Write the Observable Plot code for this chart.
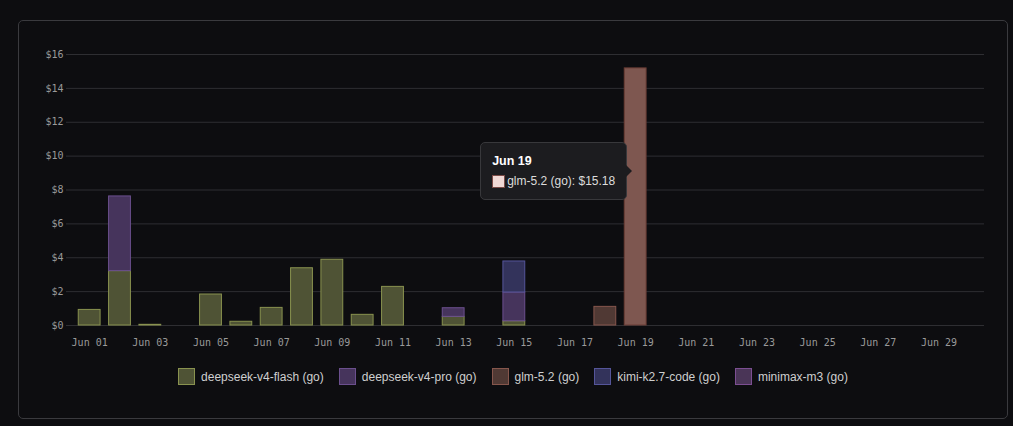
<!DOCTYPE html>
<html>
<head>
<meta charset="utf-8">
<script src="https://cdn.jsdelivr.net/npm/d3@7"></script>
<script src="https://cdn.jsdelivr.net/npm/@observablehq/plot@0.6"></script>
<style>
  html, body { margin: 0; padding: 0; background: #0d0d10; width: 1013px; height: 426px; overflow: hidden; }
  #card { position: absolute; left: 18px; top: 20px; width: 988px; height: 397px; border: 1px solid #3a3a3e; border-radius: 5px; }
  #chart { position: absolute; left: 0; top: 0; }
  #legend { position: absolute; left: 18px; top: 368px; width: 990px; display: flex; justify-content: center; align-items: center;
            font-family: "Liberation Sans", Arial, sans-serif; font-size: 12px; color: #cfcfcf; }
  .item { display: flex; align-items: center; margin: 0 7.5px; }
  .sw { width: 15px; height: 15px; border: 1px solid; margin-right: 6px; }
  #tooltip { position: absolute; box-sizing: border-box; background: #1c1c1f; border: 1px solid #38383b; border-radius: 5px;
             padding: 10px 11px 11px 11px; font-family: "Liberation Sans", Arial, sans-serif; font-size: 12px; color: #dcdcdc; }
  #tooltip .t { font-weight: bold; color: #fff; line-height: 16px; margin-bottom: 6px; font-size: 12.5px; }
  #tooltip .b { display: flex; align-items: center; line-height: 13px; white-space: nowrap; }
  #tooltip .b .s { width: 11px; height: 11px; border: 1px solid #7a4a45; margin-right: 2px; }
  #tooltip::after { content: ""; position: absolute; right: -6px; top: 50%; margin-top: -6px; border-top: 6px solid transparent;
                    border-bottom: 6px solid transparent; border-left: 6px solid #1c1c1f; }
</style>
</head>
<body>
<div id="card"></div>
<div id="chart"></div>
<div id="legend"></div>
<div id="tooltip"></div>
<script>
const dates = ["Jun 01","Jun 02","Jun 03","Jun 04","Jun 05","Jun 06","Jun 07","Jun 08","Jun 09","Jun 10",
               "Jun 11","Jun 12","Jun 13","Jun 14","Jun 15","Jun 16","Jun 17","Jun 18","Jun 19","Jun 20",
               "Jun 21","Jun 22","Jun 23","Jun 24","Jun 25","Jun 26","Jun 27","Jun 28","Jun 29","Jun 30"];
const xTickLabels = ["Jun 01","Jun 03","Jun 05","Jun 07","Jun 09","Jun 11","Jun 13","Jun 15",
                     "Jun 17","Jun 19","Jun 21","Jun 23","Jun 25","Jun 27","Jun 29"];
const yTicks = [0, 2, 4, 6, 8, 10, 12, 14, 16];
const seriesNames = ["deepseek-v4-flash (go)", "deepseek-v4-pro (go)", "glm-5.2 (go)", "kimi-k2.7-code (go)", "minimax-m3 (go)"];
//                 01    02    03    04  05    06    07    08    09    10    11    12  13    14  15    16 17 18    19     20 ... 30
const flashCost   = [0.92, 3.21, 0.04, 0, 1.83, 0.22, 1.04, 3.38, 3.88, 0.63, 2.28, 0, 0.51, 0, 0.25, 0, 0, 0,    0,     0,0,0,0,0,0,0,0,0,0,0];
const proCost     = [0,    4.41, 0,    0, 0,    0,    0,    0,    0,    0,    0,    0, 0.51, 0, 1.70, 0, 0, 0,    0,     0,0,0,0,0,0,0,0,0,0,0];
const glmCost     = [0,    0,    0,    0, 0,    0,    0,    0,    0,    0,    0,    0, 0,    0, 0,    0, 0, 1.10, 15.18, 0,0,0,0,0,0,0,0,0,0,0];
const kimiCost    = [0,    0,    0,    0, 0,    0,    0,    0,    0,    0,    0,    0, 0,    0, 1.83, 0, 0, 0,    0,     0,0,0,0,0,0,0,0,0,0,0];
const minimaxCost = [0,    0,    0,    0, 0,    0,    0,    0,    0,    0,    0,    0, 0,    0, 0,    0, 0, 0,    0,     0,0,0,0,0,0,0,0,0,0,0];
const highlighted = {date: "Jun 19", series: "glm-5.2 (go)"};

// styles
const fills   = ["#4f5335", "#46345c", "#503934", "#33335b", "#4a3557"];
const strokes = ["#89924f", "#6b4f8e", "#86564c", "#55559a", "#7c4e92"];
const hoverFill = "#7e5750", hoverStroke = "#6a3d35";

const allSeries = [flashCost, proCost, glmCost, kimiCost, minimaxCost];
const rows = seriesNames.flatMap((s, i) => allSeries[i].map((v, j) => ({date: dates[j], series: s, value: v, si: i})))
  .filter(d => d.value > 0);
const isHl = d => d.date === highlighted.date && d.series === highlighted.series;

const chart = Plot.plot({
  width: 1013, height: 360,
  marginLeft: 74, marginRight: 29, marginTop: 54, marginBottom: 35,
  style: {background: "transparent", color: "#9a9a9a", fontFamily: "'DejaVu Sans Mono', monospace", fontSize: "10px"},
  x: {type: "band", domain: dates, paddingInner: 0.28, paddingOuter: 0.14, round: false},
  y: {domain: [0, 16]},
  marks: [
    Plot.gridY(yTicks, {stroke: "#2e2e32", strokeOpacity: 1}),
    Plot.axisY(yTicks, {tickFormat: d => "$" + d, tickSize: 8, tickPadding: 3, stroke: "#2e2e32", label: null}),
    Plot.axisX(xTickLabels, {tickSize: 0, tickPadding: 13, label: null}),
    Plot.barY(rows, {
      x: "date", y: "value",
      fill: d => isHl(d) ? hoverFill : fills[d.si],
      stroke: d => isHl(d) ? hoverStroke : strokes[d.si],
      strokeWidth: 1
    })
  ]
});
document.getElementById("chart").append(chart);

// legend
const legend = document.getElementById("legend");
seriesNames.forEach((s, i) => {
  const it = document.createElement("div"); it.className = "item";
  const sw = document.createElement("div"); sw.className = "sw";
  sw.style.background = fills[i]; sw.style.borderColor = strokes[i];
  const tx = document.createElement("span"); tx.textContent = s;
  it.append(sw, tx); legend.append(it);
});

// tooltip
const xs = chart.scale("x");
const tipX = xs.apply(highlighted.date) + xs.bandwidth / 2 - 2;
const tipY = 171;
const hv = glmCost[dates.indexOf(highlighted.date)];
const tt = document.getElementById("tooltip");
tt.innerHTML = `<div class="t">${highlighted.date}</div><div class="b"><div class="s" style="background:#f0d8d4"></div><span>${highlighted.series}: $${hv.toFixed(2)}</span></div>`;
const w = tt.offsetWidth, h = tt.offsetHeight;
tt.style.left = (tipX - 6 - w) + "px";
tt.style.top = (tipY - h / 2) + "px";
</script>
</body>
</html>
